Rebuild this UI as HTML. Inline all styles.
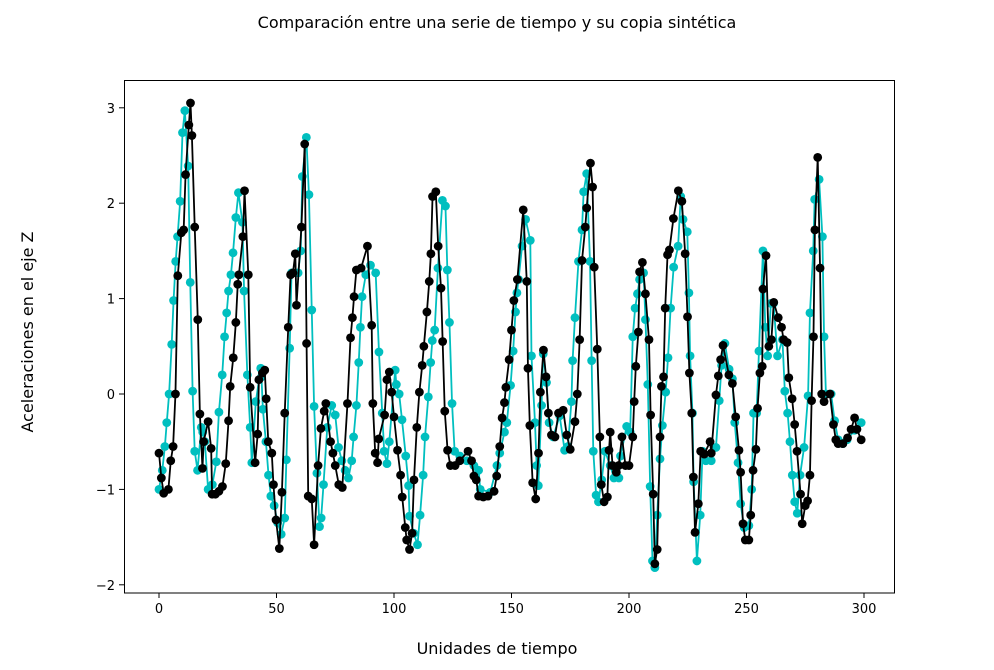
<!DOCTYPE html>
<html><head><meta charset="utf-8"><style>
html,body{margin:0;padding:0;background:#fff;}
svg text{font-family:"DejaVu Sans","Liberation Sans",sans-serif;fill:#000;}
</style></head><body>
<svg id="chart" width="994" height="665" viewBox="0 0 994 665" xmlns="http://www.w3.org/2000/svg">
<rect x="0" y="0" width="994" height="665" fill="#fff"/>
<text x="497" y="28" text-anchor="middle" font-size="16">Comparación entre una serie de tiempo y su copia sintética</text>
<text x="497" y="654" text-anchor="middle" font-size="16">Unidades de tiempo</text>
<text transform="translate(33,332) rotate(-90)" text-anchor="middle" font-size="16">Aceleraciones en el eje Z</text>
<g id="ticks"></g>
<g id="series"></g>
<rect x="124.5" y="80.5" width="770" height="512.5" fill="none" stroke="#000" stroke-width="1"/>
</svg>
<script>
const xTicks = [0, 50, 100, 150, 200, 250, 300];
const yTicks = [-2, -1, 0, 1, 2, 3];
const syntheticSeries = [[0,-1.0],[1.4,-0.8],[2.5,-0.55],[3.3,-0.3],[4.3,0.0],[5.4,0.52],[6.2,0.98],[7.1,1.39],[7.9,1.65],[9,2.02],[10,2.74],[11,2.97],[12.4,2.39],[13.3,1.17],[14.3,0.03],[15.2,-0.6],[16.4,-0.8],[18,-0.35],[18.6,-0.4],[19.5,-0.5],[20.9,-1.0],[22.7,-0.95],[24.4,-0.71],[25.5,-0.19],[26.9,0.2],[27.9,0.6],[28.8,0.85],[29.6,1.08],[30.6,1.25],[31.5,1.48],[32.7,1.85],[33.8,2.11],[35.5,1.8],[36.2,1.08],[37.6,0.2],[38.8,-0.35],[39.5,-0.72],[41.2,-0.08],[43.3,0.27],[43.6,0.18],[44.2,-0.16],[45.5,-0.5],[46.6,-0.85],[47.6,-1.07],[49,-1.17],[50.5,-1.35],[52,-1.47],[53.5,-1.3],[54.2,-0.69],[55.6,0.48],[56.4,1.27],[59.2,1.27],[60.3,1.5],[61,2.28],[62.7,2.69],[63.8,2.09],[65,0.88],[66,-0.13],[67.2,-0.83],[68.3,-1.39],[69,-1.3],[70,-0.95],[71.6,-0.35],[73.5,-0.12],[75,-0.22],[76.4,-0.56],[77.8,-0.7],[79.2,-0.8],[80.6,-0.88],[82,-0.7],[82.8,-0.45],[84,-0.12],[85,0.33],[85.7,0.7],[86.4,1.02],[88,1.25],[90,1.35],[92.2,1.27],[93.6,0.44],[95,-0.2],[95.8,-0.6],[97,-0.73],[98,-0.5],[100.5,0.25],[101,0.1],[102.2,0.0],[103.4,-0.27],[105,-0.65],[106.2,-0.96],[106.6,-1.28],[108.4,-1.46],[110,-1.58],[111.1,-1.27],[112.4,-0.85],[113.2,-0.45],[114.6,-0.03],[115.6,0.33],[116.3,0.56],[117.3,0.67],[118.7,1.32],[120.6,2.03],[121.9,1.97],[122.7,1.3],[123.6,0.75],[124.7,-0.1],[125.8,-0.6],[128,-0.65],[131,-0.7],[134,-0.75],[136,-0.8],[136.7,-1.0],[141,-1.03],[143.8,-0.75],[145,-0.62],[147,-0.4],[148,-0.3],[149.6,0.09],[150.7,0.45],[151.7,0.86],[152.3,1.06],[153,1.2],[154.5,1.55],[156,1.83],[158,1.61],[158.5,0.4],[160,-0.3],[160.7,-0.75],[161.4,-0.96],[162.8,-0.12],[163.5,0.42],[164.9,0.12],[166,-0.3],[167.7,-0.45],[170.5,-0.23],[172.6,-0.59],[174,-0.55],[175.5,-0.08],[176,0.35],[177,0.8],[178.5,1.39],[180,1.72],[180.7,2.12],[182,2.31],[183.4,1.39],[184.1,0.35],[184.8,-0.6],[186,-1.06],[187,-1.13],[188.4,-0.9],[189.8,-0.6],[192,-0.75],[193.6,-0.88],[195.7,-0.88],[196.4,-0.65],[199,-0.34],[200.5,-0.4],[201.6,0.6],[202.6,0.9],[203.6,1.05],[204.5,1.2],[206.2,1.27],[207,0.78],[208,0.1],[209,-0.97],[210,-1.75],[211,-1.82],[212,-1.27],[213.2,-0.68],[214.2,-0.33],[215.6,0.02],[216.6,0.38],[217.7,0.9],[219,1.33],[220.9,1.55],[222,2.07],[223,1.83],[224.8,1.7],[225.5,1.06],[226,0.4],[227,-0.2],[227.5,-0.92],[228.9,-1.75],[230.3,-1.27],[231.3,-0.6],[232.7,-0.7],[235,-0.7],[237,-0.56],[238.4,-0.07],[239.4,0.3],[240.8,0.53],[242.6,0.26],[244,0.16],[245,-0.3],[246.4,-0.72],[247.5,-1.15],[249,-1.4],[251,-1.38],[252.2,-1.0],[253,-0.2],[254.3,-0.2],[255.3,0.45],[257,1.5],[258,0.7],[259,0.4],[260.4,0.95],[261.5,0.95],[263.2,0.4],[265.3,0.57],[266.3,0.03],[267.5,-0.2],[268.5,-0.5],[269.5,-0.85],[270.5,-1.13],[271.6,-1.25],[272.8,-0.85],[274.5,-0.56],[276.2,-0.02],[277,0.85],[278.4,1.5],[279,2.04],[280.9,2.25],[282.3,1.65],[283,0.6],[283.8,0.0],[286,0.0],[287.5,-0.28],[289,-0.48],[291,-0.52],[292.8,-0.48],[296,-0.38],[298.8,-0.3]];
const originalSeries = [[0,-0.62],[1,-0.88],[2,-1.04],[4,-1.0],[5,-0.7],[6,-0.55],[7,0.0],[8,1.24],[9.5,1.69],[10.5,1.72],[11.3,2.3],[12.7,2.82],[13.4,3.05],[14,2.71],[15.2,1.75],[16.5,0.78],[17.4,-0.21],[18.5,-0.78],[19,-0.5],[20.9,-0.29],[22.2,-0.57],[22.6,-1.05],[24,-1.05],[25.5,-1.02],[27,-0.97],[28.4,-0.73],[29.6,-0.28],[30.3,0.08],[31.6,0.38],[32.7,0.75],[33.5,1.15],[34,1.25],[35.7,1.65],[36.4,2.13],[38,1.25],[38.8,0.07],[40.9,-0.72],[42,-0.42],[42.5,0.15],[44,0.22],[45,0.25],[45.6,-0.05],[46.5,-0.5],[48,-0.62],[48.7,-0.95],[49.8,-1.32],[51.2,-1.62],[52.3,-1.03],[53.5,-0.2],[55,0.7],[56,1.25],[57,1.27],[58,1.47],[58.5,0.93],[60.6,1.75],[62,2.62],[62.8,0.53],[63.5,-1.07],[65,-1.1],[66,-1.58],[67.7,-0.75],[68.9,-0.36],[70.3,-0.18],[71,-0.1],[73,-0.5],[74,-0.62],[75,-0.75],[76.5,-0.95],[78,-0.98],[80.2,-0.1],[81.5,0.59],[82.3,0.8],[83,1.02],[84,1.3],[86,1.32],[88.7,1.55],[90.5,0.72],[91,-0.1],[92,-0.62],[93,-0.72],[93.5,-0.47],[96,-0.22],[97,0.15],[98,0.23],[99,0.02],[100,-0.24],[101.5,-0.59],[102.8,-0.85],[103.5,-1.08],[104.8,-1.4],[105.4,-1.53],[106.6,-1.63],[107.7,-1.46],[108.5,-0.9],[109.7,-0.35],[110.8,0.02],[112,0.3],[112.7,0.5],[114,0.86],[115,1.18],[115.7,1.47],[116.4,2.07],[117.8,2.12],[118.8,1.55],[120,1.11],[120.7,0.55],[121.6,-0.18],[122.8,-0.59],[124,-0.75],[126,-0.75],[128,-0.7],[131.5,-0.6],[133,-0.7],[134,-0.86],[135,-0.9],[136,-1.07],[138,-1.08],[140,-1.07],[142.6,-1.02],[143.7,-0.86],[145,-0.55],[146,-0.25],[147,-0.09],[147.6,0.07],[149,0.36],[150,0.67],[151,0.98],[152.5,1.2],[155,1.93],[156.5,1.18],[157,0.27],[157.8,-0.33],[159,-0.93],[160.3,-1.1],[161.5,-0.62],[162.3,0.02],[163.6,0.46],[164.7,0.18],[165.7,-0.2],[167,-0.43],[168.5,-0.45],[170,-0.2],[172,-0.17],[173.5,-0.43],[175,-0.58],[177,-0.29],[178,0.0],[179,0.57],[180,1.4],[181.4,1.75],[182,1.95],[183.6,2.42],[184.5,2.17],[185.2,1.33],[186.5,0.47],[187.6,-0.45],[188.2,-0.95],[189.4,-1.13],[190.8,-1.08],[191.5,-0.59],[192,-0.4],[193,-0.75],[194.6,-0.82],[195.6,-0.75],[197,-0.45],[198.5,-0.75],[200,-0.75],[201.6,-0.45],[202.2,-0.08],[202.9,0.29],[204,0.65],[204.5,1.28],[205.7,1.38],[207,1.05],[208.5,0.57],[209.2,-0.22],[210.3,-1.05],[211,-1.78],[212,-1.63],[213.2,-0.45],[213.8,0.08],[214.7,0.18],[215.4,0.9],[216.4,1.46],[217.2,1.51],[218.9,1.84],[221,2.13],[222.5,2.02],[223.9,1.47],[224.9,0.81],[225.7,0.22],[226.7,-0.2],[227.4,-0.87],[228.1,-1.45],[229.5,-1.15],[230.5,-0.6],[232,-0.63],[234.5,-0.5],[235,-0.62],[237,-0.01],[238,0.19],[239,0.36],[240,0.51],[242.5,0.2],[244,0.11],[245.4,-0.24],[246.8,-0.59],[247.5,-0.82],[248.5,-1.36],[249.5,-1.53],[251,-1.53],[251.8,-1.27],[252.8,-0.8],[254,-0.58],[254.7,-0.15],[255.7,0.22],[256.7,0.29],[257,1.1],[258.3,1.45],[259.5,0.5],[260.6,0.57],[261.6,0.96],[263.5,0.8],[264.9,0.7],[265.8,0.57],[267.3,0.54],[268,0.17],[269.4,-0.05],[270.5,-0.32],[271.5,-0.6],[273,-1.05],[273.7,-1.36],[275,-1.17],[276,-1.12],[277,-0.85],[277.7,-0.07],[278.5,0.6],[279.1,1.72],[280.3,2.48],[281.3,1.32],[282,0.0],[283,-0.08],[285.5,0.0],[287,-0.32],[288,-0.48],[289,-0.52],[291,-0.52],[293,-0.46],[294.5,-0.37],[296,-0.25],[297,-0.37],[298.8,-0.48]];

const NS = 'http://www.w3.org/2000/svg';
function xScale(v){ return 159 + v * (705 / 300); }
function yScale(v){ return 394 - v * 95.4; }

const tg = document.getElementById('ticks');
xTicks.forEach(t => {
  const l = document.createElementNS(NS, 'line');
  l.setAttribute('x1', xScale(t)); l.setAttribute('x2', xScale(t));
  l.setAttribute('y1', 593); l.setAttribute('y2', 598);
  l.setAttribute('stroke', '#000');
  
  
  tg.appendChild(l);
  const tx = document.createElementNS(NS, 'text');
  tx.setAttribute('x', xScale(t)); tx.setAttribute('y', 613);
  tx.setAttribute('text-anchor', 'middle'); tx.setAttribute('font-size', '13');
  tx.textContent = t;
  
  
  tg.appendChild(tx);
});
yTicks.forEach(t => {
  const l = document.createElementNS(NS, 'line');
  l.setAttribute('x1', 119); l.setAttribute('x2', 124);
  l.setAttribute('y1', yScale(t)); l.setAttribute('y2', yScale(t));
  l.setAttribute('stroke', '#000');
  
  
  tg.appendChild(l);
  const tx = document.createElementNS(NS, 'text');
  tx.setAttribute('x', 115); tx.setAttribute('y', yScale(t) + 5);
  tx.setAttribute('text-anchor', 'end'); tx.setAttribute('font-size', '13');
  tx.textContent = t < 0 ? '\u2212' + Math.abs(t) : t;
  
  
  tg.appendChild(tx);
});

const sg = document.getElementById('series');
function drawSeries(data, color, name){
  const g = document.createElementNS(NS, 'g');
  
  
  const p = document.createElementNS(NS, 'polyline');
  p.setAttribute('points', data.map(d => xScale(d[0]) + ',' + yScale(d[1])).join(' '));
  p.setAttribute('fill', 'none'); p.setAttribute('stroke', color);
  p.setAttribute('stroke-width', '1.8'); p.setAttribute('stroke-linejoin', 'round');
  
  
  g.appendChild(p);
  data.forEach(d => {
    const c = document.createElementNS(NS, 'circle');
    c.setAttribute('cx', xScale(d[0])); c.setAttribute('cy', yScale(d[1]));
    c.setAttribute('r', 4.4); c.setAttribute('fill', color);
    
    
    g.appendChild(c);
  });
  sg.appendChild(g);
}
drawSeries(syntheticSeries, '#00bfbf', 'synthetic-series');
drawSeries(originalSeries, '#000000', 'original-series');
</script>
</body></html>
